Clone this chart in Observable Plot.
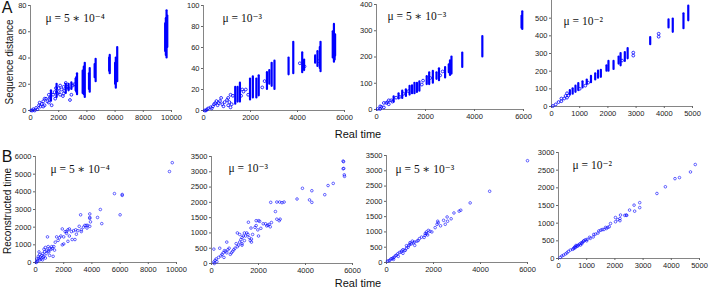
<!DOCTYPE html>
<html><head><meta charset="utf-8">
<script src="https://cdn.jsdelivr.net/npm/d3@7"></script>
<script src="https://cdn.jsdelivr.net/npm/@observablehq/plot@0.6"></script>
<style>
body{margin:0;background:#fff;}
#wrap{position:relative;width:709px;height:292px;overflow:hidden;font-family:"Liberation Sans",Arial,sans-serif;}
#wrap svg{position:absolute;overflow:visible;}
.lab{position:absolute;color:#111;white-space:nowrap;line-height:1;}
</style></head><body><div id="wrap"></div>
<script>
// ---- labels ----
const muLabels = ["μ = 5 ∗ 10⁻⁴", "μ = 10⁻³", "μ = 5 ∗ 10⁻³", "μ = 10⁻²"];
const panelLetters = ["A", "B"];
const yLabels = ["Sequence distance", "Reconstructed time"];
const xLabel = "Real time";

// ---- tick values ----
const ticksX10k = [0, 2000, 4000, 6000, 8000, 10000];
const ticksX6k = [0, 2000, 4000, 6000];
const ticksX5k = [0, 1000, 2000, 3000, 4000, 5000];
const ticksYA1 = [0, 20, 40, 60, 80];
const ticksYA2 = [0, 20, 40, 60, 80, 100];
const ticksYA3 = [0, 100, 200, 300, 400];
const ticksYA4 = [0, 100, 200, 300, 400, 500];
const ticksYB1 = [0, 1000, 2000, 3000, 4000, 5000, 6000];
const ticksYB23 = [0, 500, 1000, 1500, 2000, 2500, 3000, 3500];
const ticksYB4 = [0, 500, 1000, 1500, 2000, 2500, 3000];

// ---- A: dense vertical streaks [real time, min distance, max distance] ----
const a1Streaks = [[9650,40,76],[9600,42,70],[9550,45,66],[9700,48,72],[6150,22,48],[6050,17,40],[6000,20,36],[5620,28,42],[5580,30,40],
  [4620,22,39],[4550,25,35],[4200,14,32],[4150,16,28],[3850,10,36],[3780,12,33],[3700,13,30],[3300,12,28],[3250,14,25],[3200,15,24],
  [2900,16,21],[2700,15,20],[2500,13,20],[1850,10,20],[1450,7,15]];
const a1Dots = [[2800,8],[1500,4],[1200,7],[2000,14],[2200,16],[2600,18],[3000,19],[1600,12],[1700,14],[800,5],[600,4],[400,2],[200,1],[50,0],
  [3100,20],[2400,15],[1100,9],[2900,12],[2300,11],[2700,17],[700,3],[500,1],[300,0],[150,0],[1400,10],[1900,13],[1350,9],[650,6],
  [2350,13],[2350,18],[2100,12],[2100,19],[1300,6],[1300,12],[1000,4],[1000,9],[900,3],[900,7],[2500,21],[2000,17],[1750,9],[1800,17]];
const a2Streaks = [[5550,46,82],[5500,50,75],[5600,52,72],[5580,48,70],[4980,37,65],[4950,40,60],[4850,42,56],[4750,45,52],
  [4200,36,55],[4280,38,48],[3820,35,65],[3620,34,50],[3020,20,47],[2900,23,45],[2800,25,38],[2700,20,36],
  [2350,14,33],[2250,12,30],[2100,12,32],[1980,10,30],[1550,8,26],[1450,8,22],[1350,6,22]];
const a2Dots = [[900,8],[800,6],[700,9],[600,5],[500,7],[400,4],[300,3],[200,2],[100,0],[50,0],[1250,14],[1700,18],[1800,20],[2500,22],
  [2600,28],[1900,15],[750,12],[1000,10],[850,4],[4100,45],[4300,42],[4900,47],[650,7],[550,9],[450,6],[350,2],[150,1],[1200,6],
  [1150,3],[1150,15],[1100,8],[1050,12],[1050,5],[1600,14],[1650,20]];
const a3Streaks = [[5950,305,372],[5920,310,355],[4320,200,278],[3500,160,215],[3060,135,200],[3000,130,185],[2950,140,170],[2800,120,160],
  [2550,110,155],[2450,115,140],[2300,100,145],[2150,95,140],[2050,95,125],[1750,70,105],[1650,65,100],[1550,60,100],[1450,60,90],
  [1350,55,88],[1200,50,75],[1050,42,70],[900,40,60],[700,28,48]];
const a3Dots = [[2700,145],[2600,130],[1900,110],[1850,95],[800,45],[600,35],[400,25],[200,10],[50,2],[1100,60],[950,48],[1300,70],[2200,120],
  [500,20],[500,35],[300,8],[300,25],[150,2],[150,12],[650,30],[450,28]];
const a4Streaks = [[4850,485,568],[4680,440,525],[4300,420,495],[4150,445,490],[3500,350,390],[2700,270,328],[2600,255,305],[2450,230,300],
  [2380,240,280],[2200,210,255],[2020,200,255],[1950,200,230],[1750,165,205],[1650,160,200],[1550,150,185],[1400,135,170],[1250,125,150],
  [1100,105,140],[950,90,130],[850,80,115],[750,70,100],[650,65,90]];
const a4Dots = [[3800,395],[3800,412],[2900,288],[2900,305],[250,25],[150,12],[50,3],[450,45],[1300,135],[2500,260],[1200,118],[1000,100],[600,62],
  [550,50],[550,75],[350,30],[350,45],[500,60]];

// ---- B: reconstructed vs real time [real time, reconstructed time] ----
const b1Points = [[9700,5650],[9500,5150],[5600,3900],[6150,3850],[6150,3800],[6000,2700],[4600,3000],[4700,2200],[4400,2550],[3850,2750],
  [3850,2550],[3850,2500],[3900,2300],[3850,2050],[3700,2100],[3600,2100],[3650,1950],[3200,2700],[3250,1850],[3250,1750],[3100,2050],
  [3000,1800],[2850,1850],[2700,1800],[2550,1750],[2400,1900],[2300,1850],[2200,1750],[2100,1750],[1900,1900],[1800,1500],[2000,1450],
  [2400,1500],[2600,1300],[2800,1300],[2900,1600],[2300,1200],[2000,1050],[1700,1400],[1500,1450],[1600,1250],[1400,1150],[1300,900],
  [1200,800],[1350,700],[1100,750],[1000,800],[900,900],[850,1450],[900,650],[800,700],[750,500],[650,600],[600,750],[500,500],[550,300],
  [450,400],[400,200],[350,300],[300,150],[250,250],[200,350],[150,100],[100,50],[50,0],[100,200],[700,250],[1000,400],[1250,350],
  [1900,1000],[2200,1650],[3400,2000],[3500,2100],[1150,900],[950,600],[500,150],[300,450],[250,600],[600,350],[700,850]];
const b2Points = [[5600,3350],[5620,3330],[5600,3100],[5630,3110],[5650,2900],[5660,2850],[5180,2620],[4960,2550],[4820,2250],[4270,2380],
  [4270,2000],[4170,2080],[3870,2460],[3640,2110],[2520,2000],[2780,2010],[2900,2010],[3090,2010],[3000,1990],[2720,1700],[2780,1450],
  [2880,1400],[2920,1450],[2550,1340],[2300,1300],[2400,1250],[2500,1200],[2450,1280],[2000,1400],[1900,1400],[2050,1380],[1900,1240],
  [1970,1100],[2000,900],[1570,1350],[1680,1160],[1500,1000],[1600,850],[1650,750],[1700,800],[1550,950],[1450,900],[1300,850],[1350,900],
  [1250,780],[1400,750],[1300,650],[1200,700],[1150,600],[1100,550],[1050,650],[1000,500],[950,450],[900,400],[850,350],[800,300],[750,500],
  [700,450],[650,350],[600,400],[550,420],[500,350],[450,300],[400,250],[350,500],[300,200],[100,470],[200,150],[150,100],[100,50],[120,0],
  [230,60],[530,200],[1400,1000],[1200,950],[1700,700],[2200,1300],[2350,1230],[2100,1150],[1850,1180],[1750,950],[1100,1000],[650,700],[1300,600]];
const b3Points = [[6000,3330],[4390,2330],[3560,1950],[3160,1710],[3090,1680],[2870,1620],[2750,1430],[2580,1490],[2430,1380],[2200,1300],
  [2150,1250],[2180,1350],[2070,1140],[1930,1000],[1780,1050],[1710,940],[1640,890],[1700,1000],[1650,950],[1750,900],[1600,820],[1490,830],
  [1350,720],[1400,780],[1300,700],[1200,670],[1150,650],[1100,700],[1060,610],[1000,600],[950,560],[920,500],[850,470],[800,400],[770,390],
  [700,420],[650,380],[620,340],[550,330],[480,285],[420,240],[380,220],[330,175],[280,150],[250,130],[190,120],[150,80],[100,60],[40,45],
  [2500,1250],[2300,1200],[1850,1020],[2600,1350],[1200,560],[1000,650],[850,550],[700,300],[500,200],[300,100]];
const b4Points = [[4850,2660],[4680,2450],[4290,2290],[4130,2260],[3790,2030],[3490,1840],[2880,1580],[2880,1440],[2680,1510],[2700,1340],
  [2520,1370],[2420,1220],[2350,1220],[2200,1230],[2180,1130],[2180,1070],[2020,1160],[2020,1040],[1845,990],[1750,880],[1670,880],[1610,820],
  [1550,820],[1430,780],[1310,690],[1230,610],[1130,570],[1010,540],[890,490],[830,420],[750,410],[650,350],[600,310],[540,280],[420,240],
  [300,160],[180,95],[60,30],[1800,900],[1400,720],[1250,680],[900,500],[850,460],[800,440],[700,380],[680,350],[620,370],[580,330],[550,300],
  [500,260],[350,200],[250,130],[120,70],[1000,500],[1100,600],[950,530],[1500,800],[2100,1100],[2400,1230],[1700,850],[780,380]];

const wrap = document.getElementById("wrap");
const BLUE = "#0000ff";
const fmt = d => String(d);

function panel(c) {
  const mL = 30, mR = 10, mT = 6, mB = 18;
  const w = (c.x1 - c.x0) + mL + mR, h = (c.yb - c.yt) + mT + mB;
  const marks = [
    Plot.ruleX([c.xd[0]], {stroke: "#666", strokeWidth: 0.8}),
    Plot.ruleY([c.yd[0]], {stroke: "#666", strokeWidth: 0.8}),
    Plot.axisX({ticks: c.xt, tickFormat: fmt, tickSize: 2, tickPadding: 2, label: null, stroke: "#666"}),
    Plot.axisY({ticks: c.ytk, tickFormat: fmt, tickSize: 2, tickPadding: 2, label: null, stroke: "#666"})
  ];
  if (c.streaks) marks.push(Plot.ruleX(c.streaks, {x: d => d[0], y1: d => d[1], y2: d => d[2], stroke: BLUE, strokeWidth: 2.2, strokeLinecap: "round"}));
  marks.push(Plot.dot(c.dots, {x: d => d[0], y: d => d[1], r: c.r || 1.4, stroke: BLUE, strokeWidth: 0.8, strokeOpacity: c.op || 1}));
  marks.push(Plot.text([c.title], {frameAnchor: "top-left", dx: c.tdx, dy: c.tdy, textAnchor: "start", lineAnchor: "top",
    fontFamily: "Liberation Serif, DejaVu Serif, serif", fontSize: 11.5, fill: "#111"}));
  const svg = Plot.plot({
    width: w, height: h, marginLeft: mL, marginRight: mR, marginTop: mT, marginBottom: mB,
    x: {domain: c.xd}, y: {domain: c.yd},
    style: {fontSize: "7.5px", fontFamily: "Liberation Sans, Arial, sans-serif", color: "#222", background: "transparent"},
    marks
  });
  svg.style.left = (c.x0 - mL) + "px";
  svg.style.top = (c.yt - mT) + "px";
  wrap.appendChild(svg);
}

panel({x0: 30, x1: 171, yb: 110, yt: 5, xd: [0, 10000], yd: [0, 80], xt: ticksX10k, ytk: ticksYA1, streaks: a1Streaks, dots: a1Dots, title: muLabels[0], tdx: 15, tdy: 8});
panel({x0: 203, x1: 344, yb: 110, yt: 5, xd: [0, 6000], yd: [0, 100], xt: ticksX6k, ytk: ticksYA2, streaks: a2Streaks, dots: a2Dots, title: muLabels[1], tdx: 19, tdy: 8});
panel({x0: 376, x1: 523, yb: 109, yt: 4, xd: [0, 6000], yd: [0, 400], xt: ticksX6k, ytk: ticksYA3, streaks: a3Streaks, dots: a3Dots, title: muLabels[2], tdx: 11, tdy: 7});
panel({x0: 551, x1: 692, yb: 106, yt: 0, xd: [0, 5000], yd: [0, 600], xt: ticksX5k, ytk: ticksYA4, streaks: a4Streaks, dots: a4Dots, title: muLabels[3], tdx: 12, tdy: 16});
panel({x0: 35, x1: 176, yb: 262, yt: 156, xd: [0, 10000], yd: [0, 6000], xt: ticksX10k, ytk: ticksYB1, dots: b1Points, title: muLabels[0], tdx: 15, tdy: 8, r: 1.3, op: 0.75});
panel({x0: 211, x1: 352, yb: 263, yt: 156, xd: [0, 6000], yd: [0, 3500], xt: ticksX6k, ytk: ticksYB23, dots: b2Points, title: muLabels[1], tdx: 17, tdy: 7, r: 1.3, op: 0.75});
panel({x0: 386, x1: 527, yb: 262, yt: 155, xd: [0, 6000], yd: [0, 3500], xt: ticksX6k, ytk: ticksYB23, dots: b3Points, title: muLabels[2], tdx: 9, tdy: 9, r: 1.3, op: 0.75});
panel({x0: 558, x1: 699, yb: 258, yt: 152, xd: [0, 5000], yd: [0, 3000], xt: ticksX5k, ytk: ticksYB4, dots: b4Points, title: muLabels[3], tdx: 14, tdy: 8, r: 1.3, op: 0.75});

function label(text, cx, cy, size, rot) {
  const d = document.createElement("div");
  d.className = "lab";
  d.textContent = text;
  d.style.left = cx + "px";
  d.style.top = cy + "px";
  d.style.fontSize = size + "px";
  d.style.transform = "translate(-50%,-50%)" + (rot ? " rotate(-90deg)" : "");
  wrap.appendChild(d);
}
label(panelLetters[0], 7, 8, 16, false);
label(panelLetters[1], 7, 157, 16, false);
label(yLabels[0], 10, 62, 10, true);
label(yLabels[1], 8, 211, 10, true);
label(xLabel, 358, 134, 11, false);
label(xLabel, 358, 283, 11, false);
</script></body></html>
